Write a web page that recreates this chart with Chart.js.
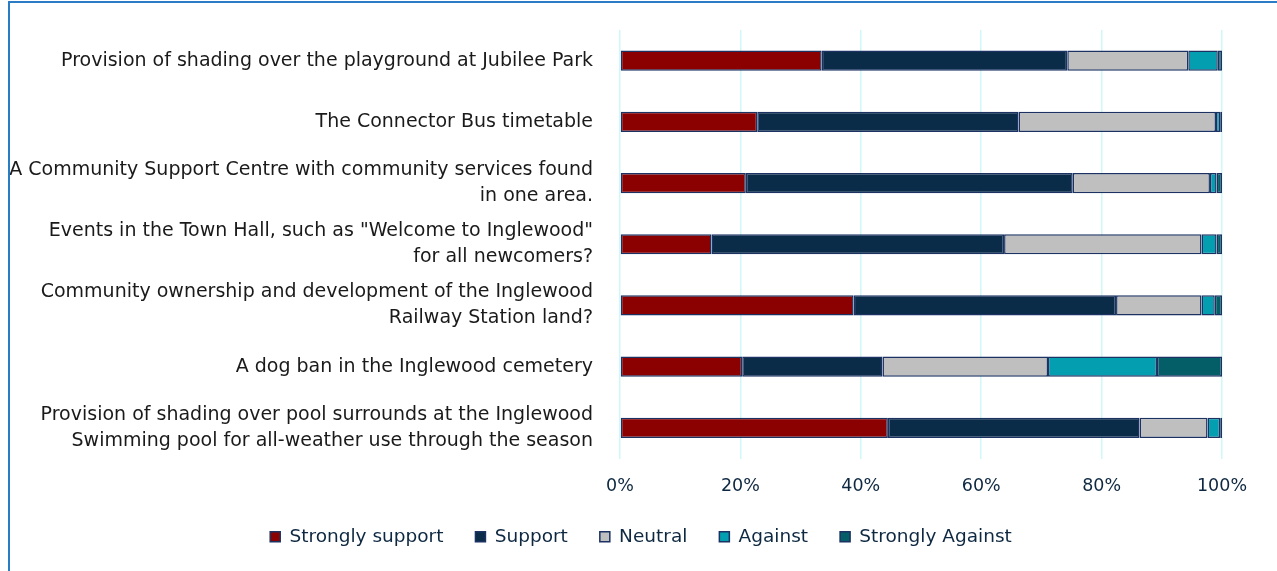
<!DOCTYPE html>
<html>
<head>
<meta charset="utf-8">
<script src="https://cdn.jsdelivr.net/npm/chart.js@4"></script>
<style>
  html, body { margin: 0; padding: 0; background: #fff; }
  .frame {
    position: absolute; left: 8px; top: 1px; width: 1300px; height: 600px;
    border-left: 2px solid #2A7CC7; border-top: 2px solid #2A7CC7;
    pointer-events: none;
  }
  canvas { position: absolute; left: 0; top: 0; }
</style>
</head>
<body>
<canvas id="chart" width="1277" height="571"></canvas>
<div class="frame"></div>
<script>
const categories = [
  "Provision of shading over the playground at Jubilee Park",
  "The Connector Bus timetable",
  ["A Community Support Centre with community services found", "in one area."],
  ["Events in the Town Hall, such as \"Welcome to Inglewood\"", "for all newcomers?"],
  ["Community ownership and development of the Inglewood", "Railway Station land?"],
  "A dog ban in the Inglewood cemetery",
  ["Provision of shading over pool surrounds at the Inglewood", "Swimming pool for all-weather use through the season"]
]

// percentages
const stronglySupport = [33.5, 22.8, 20.9, 15.2, 38.8, 20.3, 44.5]
const support = [40.8, 43.4, 54.3, 48.6, 43.6, 23.3, 41.8]
const neutral = [20.1, 32.8, 22.8, 32.8, 14.2, 27.5, 11.3]
const against = [4.9, 0.7, 1.1, 2.5, 2.2, 18.1, 2.1]
const stronglyAgainst = [0.7, 0.3, 0.9, 0.9, 1.2, 10.8, 0.3]

const xTicks = [0, 20, 40, 60, 80, 100]

const series = [
  { label: "Strongly support", data: stronglySupport, color: "#8B0000" },
  { label: "Support", data: support, color: "#0A2C48" },
  { label: "Neutral", data: neutral, color: "#BFBFBF" },
  { label: "Against", data: against, color: "#039FB0" },
  { label: "Strongly Against", data: stronglyAgainst, color: "#045E68" }
]

const FONT = "'DejaVu Sans', sans-serif"
const NAVY = "#0E2841"

new Chart(document.getElementById("chart"), {
  type: "bar",
  data: {
    labels: categories,
    datasets: series.map(s => ({
      label: s.label,
      data: s.data,
      backgroundColor: s.color,
      borderColor: "#1B3263",
      borderWidth: 1.5,
      borderSkipped: false,
      categoryPercentage: 1,
      barPercentage: 0.33
    }))
  },
  options: {
    indexAxis: "y",
    responsive: false,
    animation: false,
    layout: { padding: { left: 5, right: 0, top: 30, bottom: 15 } },
    plugins: {
      tooltip: { enabled: false },
      legend: {
        position: "bottom",
        labels: {
          boxWidth: 10,
          boxHeight: 10,
          padding: 32,
          color: NAVY,
          font: { family: FONT, size: 18.5 }
        }
      }
    },
    scales: {
      x: {
        stacked: true,
        min: 0,
        max: 100,
        afterBuildTicks: scale => { scale.ticks = xTicks.map(v => ({ value: v })) },
        afterFit: scale => {
          scale.height = 37
          scale.paddingRight = 55
        },
        border: { display: false },
        grid: { color: "#D0F8F8", lineWidth: 1.5, drawTicks: false },
        ticks: {
          padding: 17,
          color: NAVY,
          font: { family: FONT, size: 17.5 },
          callback: v => v + "%"
        }
      },
      y: {
        stacked: true,
        afterFit: scale => {
          scale.width = 615
          scale.paddingTop = 0
          scale.paddingBottom = 0
        },
        border: { display: false },
        grid: { display: false, drawTicks: false },
        ticks: {
          padding: 27,
          color: "#1A1A1A",
          font: { family: FONT, size: 19, lineHeight: 1.37 }
        }
      }
    }
  }
})
</script>
</body>
</html>
